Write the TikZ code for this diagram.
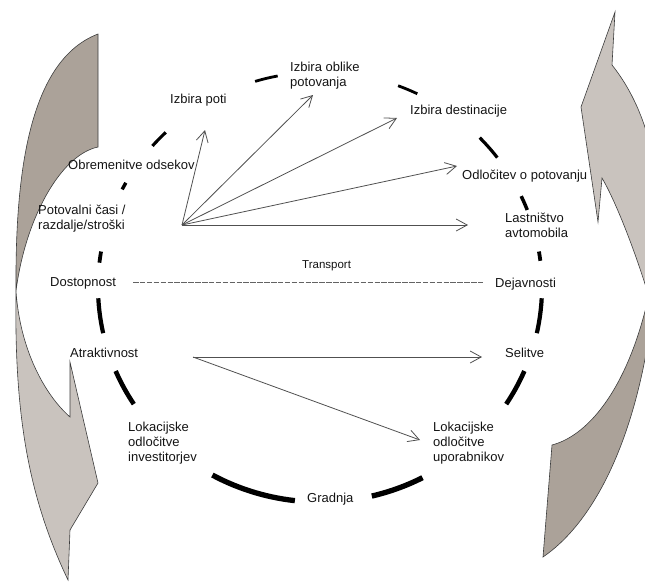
\documentclass[tikz,border=0pt]{standalone}
\usepackage{fontspec}
\setmainfont{Liberation Sans}
\usetikzlibrary{arrows.meta}

\definecolor{banddark}{RGB}{171,162,153}
\definecolor{bandlight}{RGB}{201,195,190}
\definecolor{edgegray}{RGB}{60,60,60}
\definecolor{linkgray}{RGB}{80,80,80}
\definecolor{txt}{RGB}{20,20,20}

% left-aligned stacked lines, baseline at the first line
\newcommand\mlines[1]{\begin{tabular}[t]{@{}l@{}}#1\end{tabular}}

\begin{document}
\begin{tikzpicture}[x=1pt,y=-1pt,
  lbl/.style={font=\fontsize{13}{15}\selectfont, text=txt, inner sep=0pt, anchor=base west},
  smalllbl/.style={font=\fontsize{11.5}{13}\selectfont, text=txt, inner sep=0pt, anchor=base west},
  link/.style={draw=linkgray, line width=0.8pt,
    -{Straight Barb[length=11pt,width=12pt,line width=0.8pt]}},
  dotline/.style={draw=edgegray!80, line width=0.5pt, dash pattern=on 5.5pt off 1.4pt},
  backband/.style={fill=banddark, draw=edgegray, line width=0.6pt},
  frontband/.style={fill=bandlight, draw=edgegray, line width=0.6pt}]

\useasboundingbox (0,0) rectangle (645,582);

% curved ribbon arrows on both sides
\begin{scope}
  \clip (0,0) rectangle (645,582);
  % left arrow: back face (top) and front face (bottom)
  \path[backband] (98,34) -- (98,147)
    .. controls (60,155) and (25,220) .. (16,291)
    .. controls (15,170) and (30,60) .. (98,34) -- cycle;
  \path[frontband] (16,291)
    .. controls (20,350) and (45,395) .. (70,417)
    -- (70,362) -- (98,483) -- (70,530) -- (68,580)
    .. controls (30,500) and (14,420) .. (16,291) -- cycle;
  % right arrow: front face (top) and back face (bottom)
  \path[frontband] (615,12) -- (612,65)
    .. controls (628,85) and (642,112) .. (650,145)
    -- (650,300)
    .. controls (635,250) and (615,200) .. (602,178)
    -- (598,222) -- (581,107) -- cycle;
  \path[backband] (552,445)
    .. controls (590,435) and (630,385) .. (650,290)
    -- (650,330)
    .. controls (632,450) and (590,525) .. (543,557) -- cycle;
\end{scope}

% dashed cycle: visible pieces of the ellipse between the labels
\foreach \a/\b/\w in {101/107/2.8, 64/69.4/2.8, 37/44/3.2, 21/25/3.5, 7/9.5/3.8,
    -12.4/-3/4.2, -33/-23/4.6, -76.5/-62.5/5.3, -119/-96.5/5.3,
    203/213/4.6, 183/192.4/4.2, 170.5/173.5/3.8, 151/153/3.4, 134/139/3.1}
  \draw[line width=\w pt, line cap=butt]
    plot[domain=\a:\b, samples=16] ({320+222*cos(\x)}, {287-215*sin(\x)});

% labels
\node[lbl] (poti)  at (170,103) {Izbira poti};
\node[lbl] (oblika) at (290,71.5) {\mlines{Izbira oblike\\potovanja}};
\node[lbl] (dest)  at (410,114.5) {Izbira destinacije};
\node[lbl] (odl)   at (462,179.5) {Odločitev o potovanju};
\node[lbl] (last)  at (505,222.5) {\mlines{Lastništvo\\avtomobila}};
\node[lbl] (dej)   at (495,287) {Dejavnosti};
\node[smalllbl] (tr) at (302,268.5) {Transport};
\node[lbl] (dost)  at (50,286) {Dostopnost};
\node[lbl] (obr)   at (68,169.5) {Obremenitve odsekov};
\node[lbl] (pot)   at (38,214.5) {\mlines{Potovalni časi /\\razdalje/stroški}};
\node[lbl] (atr)   at (70,357.5) {Atraktivnost};
\node[lbl] (inv)   at (128,431.5) {\mlines{Lokacijske\\odločitve\\investitorjev}};
\node[lbl] (sel)   at (505,357.5) {Selitve};
\node[lbl] (upo)   at (433,431.5) {\mlines{Lokacijske\\odločitve\\uporabnikov}};
\node[lbl] (gra)   at (307,502.5) {Gradnja};

% arrow end points
\coordinate (src1) at (182,225);
\coordinate (to1) at (205,130);
\coordinate (to2) at (313,95);
\coordinate (to3) at (397,118);
\coordinate (to4) at (457,166);
\coordinate (to5) at (468,225);
\coordinate (src2) at (193,357);
\coordinate (to6) at (482,357);
\coordinate (to7) at (420,440);
\coordinate (dl) at (133,282);
\coordinate (dr) at (483,282);

\draw[link] (src1) -- (to1);
\draw[link] (src1) -- (to2);
\draw[link] (src1) -- (to3);
\draw[link] (src1) -- (to4);
\draw[link] (src1) -- (to5);
\draw[link] (src2) -- (to6);
\draw[link] (src2) -- (to7);
\draw[dotline] (dl) -- (dr);

\end{tikzpicture}
\end{document}
